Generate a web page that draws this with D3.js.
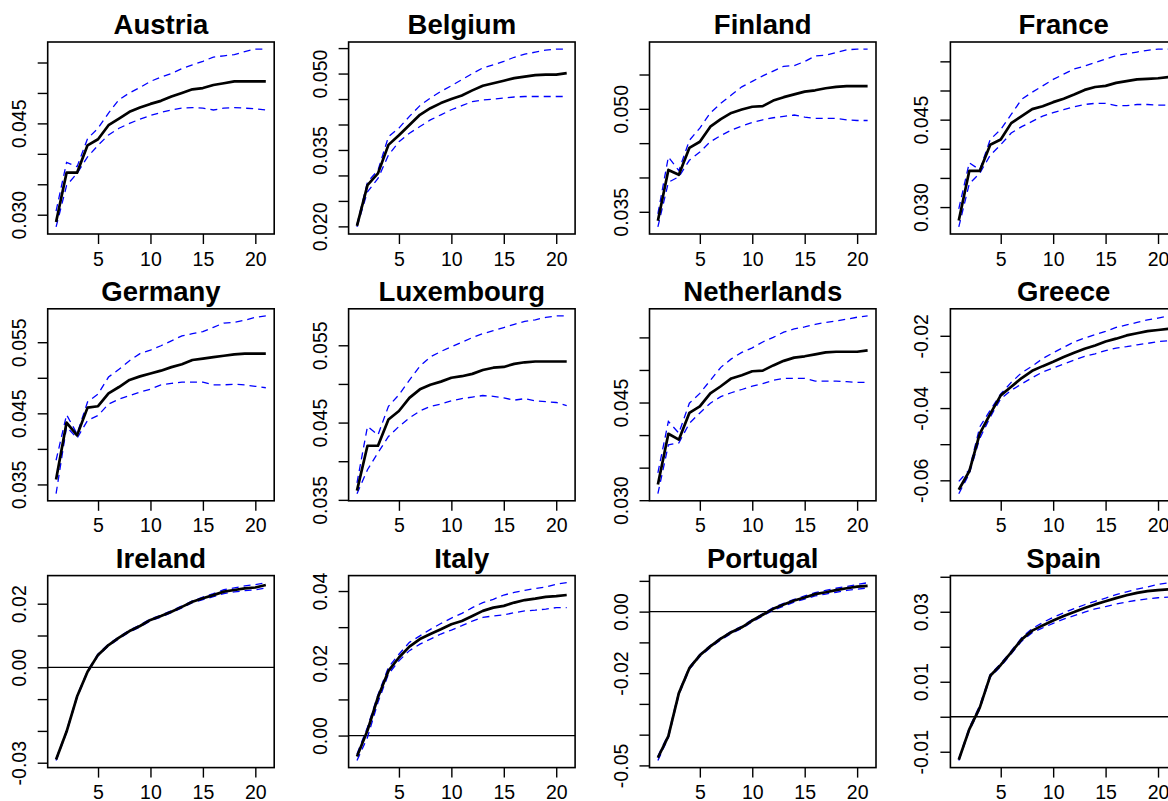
<!DOCTYPE html>
<html>
<head>
<meta charset="utf-8">
<script src="https://cdn.jsdelivr.net/npm/d3@7"></script>
<style>
  body { margin: 0; background: #fff; }
  svg { display: block; }
  .axis text { font-family: "Liberation Sans", Arial, sans-serif; font-size: 19.5px; fill: #000; }
  .title { font-family: "Liberation Sans", Arial, sans-serif; font-size: 27.5px; font-weight: bold; fill: #000; }
</style>
</head>
<body>
<div class="chart"></div>
<script>
// horizon (x axis) and x ticks
const horizon = [1,2,3,4,5,6,7,8,9,10,11,12,13,14,15,16,17,18,19,20,21];
const xTicks = [5, 10, 15, 20];

const countries = ['Austria','Belgium','Finland','France','Germany','Luxembourg',
                   'Netherlands','Greece','Ireland','Italy','Portugal','Spain'];

// estimate + confidence bands
const austriaMid = [0.0288,0.0369,0.0369,0.0414,0.0424,0.0447,0.0458,0.0469,0.0476,0.0482,0.0487,0.0494,0.0500,0.0506,0.0508,0.0513,0.0516,0.0519,0.0519,0.0519,0.0519];
const austriaUp  = [0.0306,0.0386,0.0379,0.0425,0.0442,0.0467,0.0489,0.0500,0.0509,0.0519,0.0526,0.0532,0.0540,0.0546,0.0552,0.0559,0.0561,0.0563,0.0568,0.0572,0.0572];
const austriaLo  = [0.0280,0.0348,0.0368,0.0395,0.0414,0.0431,0.0442,0.0450,0.0457,0.0463,0.0468,0.0472,0.0475,0.0476,0.0475,0.0472,0.0475,0.0476,0.0475,0.0474,0.0472];

const belgiumMid = [0.0201,0.0281,0.0304,0.0360,0.0379,0.0399,0.0419,0.0432,0.0442,0.0450,0.0457,0.0467,0.0476,0.0481,0.0486,0.0491,0.0494,0.0497,0.0498,0.0498,0.0501];
const belgiumUp  = [0.0204,0.0287,0.0310,0.0376,0.0393,0.0416,0.0437,0.0452,0.0465,0.0476,0.0488,0.0500,0.0511,0.0517,0.0524,0.0532,0.0538,0.0542,0.0546,0.0548,0.0548];
const belgiumLo  = [0.0199,0.0268,0.0294,0.0340,0.0366,0.0383,0.0396,0.0409,0.0419,0.0429,0.0437,0.0445,0.0448,0.0450,0.0452,0.0454,0.0455,0.0455,0.0455,0.0455,0.0455];

const finlandMid = [0.0337,0.0411,0.0404,0.0443,0.0452,0.0474,0.0485,0.0494,0.0499,0.0503,0.0504,0.0512,0.0517,0.0521,0.0525,0.0527,0.0530,0.0532,0.0533,0.0533,0.0533];
const finlandUp  = [0.0347,0.0430,0.0410,0.0454,0.0472,0.0494,0.0508,0.0520,0.0532,0.0540,0.0548,0.0555,0.0562,0.0563,0.0569,0.0577,0.0578,0.0582,0.0586,0.0587,0.0587];
const finlandLo  = [0.0328,0.0393,0.0401,0.0425,0.0437,0.0452,0.0461,0.0469,0.0475,0.0480,0.0484,0.0487,0.0489,0.0491,0.0488,0.0486,0.0486,0.0486,0.0484,0.0483,0.0483];

const franceMid = [0.0277,0.0362,0.0362,0.0407,0.0416,0.0444,0.0456,0.0468,0.0473,0.0480,0.0486,0.0493,0.0501,0.0506,0.0508,0.0513,0.0516,0.0519,0.0520,0.0521,0.0523];
const franceUp  = [0.0297,0.0376,0.0364,0.0416,0.0433,0.0459,0.0485,0.0497,0.0508,0.0519,0.0528,0.0537,0.0542,0.0548,0.0554,0.0560,0.0563,0.0566,0.0569,0.0571,0.0571];
const franceLo  = [0.0266,0.0340,0.0358,0.0389,0.0407,0.0427,0.0438,0.0447,0.0456,0.0462,0.0467,0.0472,0.0476,0.0478,0.0478,0.0474,0.0474,0.0476,0.0476,0.0475,0.0475];

const germanyMid = [0.0357,0.0437,0.0419,0.0458,0.0460,0.0478,0.0487,0.0497,0.0502,0.0506,0.0510,0.0515,0.0519,0.0525,0.0527,0.0529,0.0531,0.0533,0.0534,0.0534,0.0534];
const germanyUp  = [0.0384,0.0448,0.0421,0.0466,0.0477,0.0501,0.0512,0.0524,0.0534,0.0539,0.0545,0.0552,0.0559,0.0562,0.0565,0.0571,0.0577,0.0578,0.0581,0.0585,0.0587];
const germanyLo  = [0.0337,0.0431,0.0415,0.0440,0.0447,0.0463,0.0470,0.0475,0.0480,0.0484,0.0490,0.0492,0.0494,0.0494,0.0494,0.0490,0.0490,0.0491,0.0490,0.0488,0.0486];

const luxMid = [0.0362,0.0420,0.0420,0.0454,0.0465,0.0482,0.0493,0.0499,0.0503,0.0508,0.0510,0.0513,0.0518,0.0521,0.0522,0.0526,0.0528,0.0529,0.0529,0.0529,0.0529];
const luxUp  = [0.0372,0.0445,0.0434,0.0471,0.0486,0.0505,0.0523,0.0535,0.0542,0.0548,0.0554,0.0560,0.0565,0.0569,0.0573,0.0577,0.0581,0.0583,0.0586,0.0588,0.0588];
const luxLo  = [0.0358,0.0389,0.0411,0.0432,0.0445,0.0456,0.0465,0.0471,0.0474,0.0478,0.0481,0.0483,0.0485,0.0484,0.0482,0.0479,0.0481,0.0478,0.0477,0.0476,0.0472];

const nethMid = [0.0324,0.0402,0.0393,0.0434,0.0444,0.0464,0.0475,0.0487,0.0492,0.0498,0.0499,0.0507,0.0514,0.0519,0.0521,0.0524,0.0527,0.0528,0.0528,0.0528,0.0530];
const nethUp  = [0.0342,0.0421,0.0403,0.0449,0.0464,0.0484,0.0504,0.0517,0.0527,0.0534,0.0543,0.0550,0.0558,0.0563,0.0566,0.0570,0.0573,0.0575,0.0578,0.0581,0.0583];
const nethLo  = [0.0310,0.0385,0.0388,0.0418,0.0434,0.0449,0.0459,0.0465,0.0470,0.0475,0.0479,0.0484,0.0487,0.0487,0.0487,0.0483,0.0483,0.0483,0.0482,0.0481,0.0481];

const greeceMid = [-0.0626,-0.0575,-0.0471,-0.0416,-0.0365,-0.0341,-0.0317,-0.0297,-0.0284,-0.0272,-0.0259,-0.0247,-0.0236,-0.0227,-0.0216,-0.0208,-0.0199,-0.0193,-0.0187,-0.0184,-0.0181];
const greeceUp  = [-0.0603,-0.0571,-0.0452,-0.0406,-0.0361,-0.0329,-0.0302,-0.0284,-0.0263,-0.0247,-0.0232,-0.0217,-0.0206,-0.0197,-0.0188,-0.0177,-0.0170,-0.0163,-0.0156,-0.0151,-0.0145];
const greeceLo  = [-0.0637,-0.0582,-0.0484,-0.0425,-0.0374,-0.0351,-0.0333,-0.0316,-0.0300,-0.0289,-0.0278,-0.0267,-0.0257,-0.0250,-0.0241,-0.0234,-0.0230,-0.0225,-0.0221,-0.0216,-0.0214];

const irelandMid = [-0.0290,-0.0202,-0.0092,-0.0014,0.0039,0.0070,0.0093,0.0114,0.0130,0.0149,0.0161,0.0175,0.0190,0.0206,0.0217,0.0227,0.0238,0.0243,0.0248,0.0251,0.0259];
const irelandUp  = [-0.0288,-0.0199,-0.0089,-0.0011,0.0042,0.0073,0.0096,0.0117,0.0133,0.0152,0.0164,0.0178,0.0193,0.0209,0.0221,0.0232,0.0244,0.0250,0.0256,0.0260,0.0266];
const irelandLo  = [-0.0293,-0.0205,-0.0095,-0.0017,0.0036,0.0067,0.0090,0.0111,0.0127,0.0146,0.0158,0.0172,0.0187,0.0203,0.0213,0.0222,0.0232,0.0237,0.0241,0.0244,0.0249];

const italyMid = [-0.0058,0.0014,0.0106,0.0179,0.0216,0.0246,0.0267,0.0281,0.0294,0.0308,0.0317,0.0331,0.0345,0.0354,0.0359,0.0368,0.0375,0.0379,0.0384,0.0386,0.0389];
const italyUp  = [-0.0051,0.0023,0.0113,0.0189,0.0225,0.0258,0.0276,0.0294,0.0310,0.0325,0.0338,0.0354,0.0368,0.0377,0.0389,0.0396,0.0402,0.0407,0.0411,0.0419,0.0423];
const italyLo  = [-0.0069,-0.0005,0.0092,0.0170,0.0207,0.0235,0.0253,0.0267,0.0281,0.0292,0.0304,0.0317,0.0327,0.0331,0.0334,0.0340,0.0345,0.0347,0.0350,0.0354,0.0354];

const portugalMid = [-0.0475,-0.0405,-0.0265,-0.0184,-0.0142,-0.0113,-0.0088,-0.0067,-0.0051,-0.0029,-0.0010,0.0009,0.0023,0.0036,0.0046,0.0057,0.0063,0.0070,0.0076,0.0081,0.0084];
const portugalUp  = [-0.0470,-0.0399,-0.0260,-0.0180,-0.0139,-0.0110,-0.0085,-0.0064,-0.0048,-0.0026,-0.0007,0.0013,0.0027,0.0040,0.0051,0.0062,0.0069,0.0076,0.0082,0.0088,0.0094];
const portugalLo  = [-0.0484,-0.0410,-0.0270,-0.0188,-0.0146,-0.0117,-0.0092,-0.0071,-0.0055,-0.0033,-0.0014,0.0004,0.0018,0.0031,0.0041,0.0051,0.0057,0.0063,0.0069,0.0073,0.0077];

const spainMid = [-0.0123,-0.0036,0.0026,0.0117,0.0148,0.0184,0.0221,0.0246,0.0261,0.0275,0.0288,0.0299,0.0311,0.0321,0.0330,0.0339,0.0347,0.0354,0.0359,0.0362,0.0364];
const spainUp  = [-0.0120,-0.0031,0.0032,0.0121,0.0152,0.0188,0.0226,0.0252,0.0269,0.0284,0.0297,0.0309,0.0320,0.0330,0.0339,0.0349,0.0357,0.0365,0.0371,0.0378,0.0383];
const spainLo  = [-0.0125,-0.0040,0.0022,0.0113,0.0144,0.0180,0.0216,0.0240,0.0254,0.0267,0.0279,0.0289,0.0299,0.0308,0.0315,0.0322,0.0328,0.0333,0.0337,0.0340,0.0342];

// y ticks per panel, and the ones R kept a label for
const yTicks = [
  [0.030,0.035,0.040,0.045,0.050,0.055],
  [0.020,0.025,0.030,0.035,0.040,0.045,0.050,0.055],
  [0.035,0.040,0.045,0.050,0.055],
  [0.030,0.035,0.040,0.045,0.050,0.055],
  [0.035,0.040,0.045,0.050,0.055],
  [0.035,0.040,0.045,0.050,0.055],
  [0.030,0.035,0.040,0.045,0.050,0.055],
  [-0.06,-0.05,-0.04,-0.03,-0.02],
  [-0.03,-0.02,-0.01,0.00,0.01,0.02],
  [0.00,0.01,0.02,0.03,0.04],
  [-0.05,-0.04,-0.03,-0.02,-0.01,0.00,0.01],
  [-0.01,0.00,0.01,0.02,0.03,0.04]
];
const yLabels = [
  ['0.030','0.045'],
  ['0.020','0.035','0.050'],
  ['0.035','0.050'],
  ['0.030','0.045'],
  ['0.035','0.045','0.055'],
  ['0.035','0.045','0.055'],
  ['0.030','0.045'],
  ['-0.06','-0.04','-0.02'],
  ['-0.03','0.00','0.02'],
  ['0.00','0.02','0.04'],
  ['-0.05','-0.02','0.00'],
  ['-0.01','0.01','0.03']
];

const mids = [austriaMid, belgiumMid, finlandMid, franceMid, germanyMid, luxMid,
              nethMid, greeceMid, irelandMid, italyMid, portugalMid, spainMid];
const ups  = [austriaUp, belgiumUp, finlandUp, franceUp, germanyUp, luxUp,
              nethUp, greeceUp, irelandUp, italyUp, portugalUp, spainUp];
const los  = [austriaLo, belgiumLo, finlandLo, franceLo, germanyLo, luxLo,
              nethLo, greeceLo, irelandLo, italyLo, portugalLo, spainLo];

const W = 1168, H = 801;
const boxW = 226.5, boxH = 192;
const left0 = 47.7, top0 = 42, colStep = 300.9, rowStep = 266.8;

const svg = d3.select('.chart').append('svg')
  .attr('width', W)
  .attr('height', H);

const decimals = s => (s.split('.')[1] || '').length;

countries.forEach((name, i) => {
  const col = i % 4, row = Math.floor(i / 4);
  const g = svg.append('g')
    .attr('transform', `translate(${left0 + col * colStep},${top0 + row * rowStep})`);

  // R style ranges: data range padded by 4%
  const xScale = d3.scaleLinear()
    .domain([1 - 0.04 * 20, 21 + 0.04 * 20])
    .range([0, boxW]);

  const all = mids[i].concat(ups[i], los[i]);
  const [lo, hi] = d3.extent(all);
  const pad = (hi - lo) * 0.04;
  const yScale = d3.scaleLinear()
    .domain([lo - pad, hi + pad])
    .range([boxH, 0]);

  const mk = arr => horizon.map((h, k) => ({x: h, y: arr[k]}));
  const line = d3.line().x(d => xScale(d.x)).y(d => yScale(d.y));

  // zero line where 0 is inside the range
  if (lo - pad < 0 && hi + pad > 0) {
    g.append('line')
      .attr('x1', 0).attr('x2', boxW)
      .attr('y1', yScale(0)).attr('y2', yScale(0))
      .attr('stroke', '#000')
      .attr('stroke-width', 1.3);
  }

  [ups[i], los[i]].forEach(arr => {
    g.append('path')
      .datum(mk(arr))
      .attr('d', line)
      .attr('fill', 'none')
      .attr('stroke', '#0000ff')
      .attr('stroke-width', 1.3)
      .attr('stroke-dasharray', '7,5');
  });

  g.append('path')
    .datum(mk(mids[i]))
    .attr('d', line)
    .attr('fill', 'none')
    .attr('stroke', '#000')
    .attr('stroke-width', 2.7)
    .attr('stroke-linejoin', 'round');

  // axes
  const labelled = yLabels[i];
  const yAxis = d3.axisLeft(yScale)
    .tickValues(yTicks[i])
    .tickSize(10)
    .tickFormat(v => {
      const dp = decimals(labelled[0]);
      const s = v.toFixed(dp);
      return labelled.includes(s) ? s : '';
    });

  const ya = g.append('g').attr('class', 'axis').call(yAxis);
  ya.select('.domain').remove();
  ya.selectAll('line').attr('stroke', '#000').attr('stroke-width', 1.4);
  ya.selectAll('text')
    .attr('transform', 'rotate(-90)')
    .attr('x', 0)
    .attr('y', -22)
    .attr('dy', null)
    .attr('text-anchor', 'middle');

  const xAxis = d3.axisBottom(xScale)
    .tickValues(xTicks)
    .tickSize(10)
    .tickFormat(d3.format('d'));

  const xa = g.append('g').attr('class', 'axis')
    .attr('transform', `translate(0,${boxH})`)
    .call(xAxis);
  xa.select('.domain').remove();
  xa.selectAll('line').attr('stroke', '#000').attr('stroke-width', 1.4);
  xa.selectAll('text').attr('y', 31.5).attr('dy', null);

  g.append('rect')
    .attr('width', boxW)
    .attr('height', boxH)
    .attr('fill', 'none')
    .attr('stroke', '#000')
    .attr('stroke-width', 1.6);

  g.append('text')
    .attr('class', 'title')
    .attr('x', boxW / 2)
    .attr('y', -8)
    .attr('text-anchor', 'middle')
    .text(name);
});
</script>
</body>
</html>
